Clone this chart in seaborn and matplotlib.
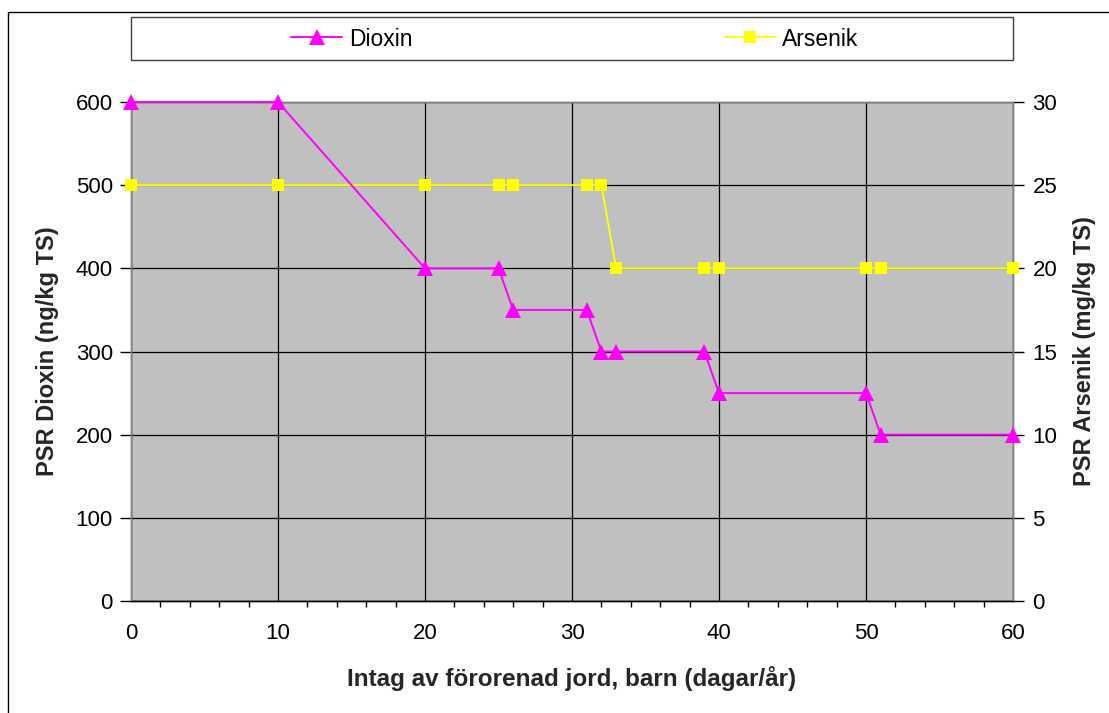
import matplotlib
matplotlib.use("Agg")
import matplotlib.pyplot as plt
from matplotlib.patches import Rectangle
from matplotlib.lines import Line2D
from matplotlib.ticker import MultipleLocator
import seaborn as sns
import pandas as pd

# Intake of contaminated soil (days/year) and the resulting guideline values
dagar = [0, 10, 20, 25, 26, 31, 32, 33, 39, 40, 50, 51, 60]
dioxin = [600, 600, 400, 400, 350, 350, 300, 300, 300, 250, 250, 200, 200]
arsenik = [25, 25, 25, 25, 25, 25, 25, 20, 20, 20, 20, 20, 20]

df = pd.DataFrame({"dagar": dagar, "Dioxin": dioxin, "Arsenik": arsenik})

sns.set_theme(style="white")
plt.rcParams["font.family"] = ["Liberation Sans", "DejaVu Sans"]

W, H = 1109, 713
fig = plt.figure(figsize=(W / 100, H / 100), dpi=100)
ax = fig.add_axes([131 / W, 1 - 601 / H, (1013 - 131) / W, (601 - 102) / H])
ax2 = ax.twinx()

ax.set_facecolor("#C0C0C0")
ax2.patch.set_visible(False)

MAG, YEL = "#FF00FF", "#FFFF00"

sns.lineplot(data=df, x="dagar", y="Dioxin", ax=ax2, color=MAG, lw=1.4,
             marker="^", markersize=11, markeredgewidth=0, clip_on=False, zorder=5)
sns.lineplot(data=df, x="dagar", y="Arsenik", ax=ax2, color=YEL, lw=1.4,
             marker="s", markersize=9, markeredgewidth=0, clip_on=False, zorder=4)
ax2.set_ylim(0, 30)
# Dioxin is read against the left axis (0-600), Arsenik against the right (0-30)
ax2.lines[0].set_ydata([v / 20 for v in dioxin])
ax2.set_ylabel("")
if ax2.get_legend() is not None:
    ax2.get_legend().remove()

ax.set_xlim(0, 60)
ax.set_ylim(0, 600)
ax.xaxis.set_major_locator(MultipleLocator(10))
ax.xaxis.set_minor_locator(MultipleLocator(2))
ax.yaxis.set_major_locator(MultipleLocator(100))
ax2.yaxis.set_major_locator(MultipleLocator(5))

ax.grid(True, which="major", color="black", lw=0.9)
ax.set_axisbelow(True)

for a in (ax, ax2):
    for s in a.spines.values():
        s.set_color("#808080")
        s.set_linewidth(1.0)
ax.spines["bottom"].set_color("black")
ax2.spines["bottom"].set_color("black")

ax.tick_params(axis="x", which="major", direction="inout", length=12, width=1,
               color="black", labelsize=16, pad=10, labelcolor="black")
ax.tick_params(axis="x", which="minor", direction="out", length=4, width=1,
               color="black", bottom=True)
ax.tick_params(axis="y", which="major", direction="out", length=8, width=1,
               color="black", labelsize=16, pad=5, labelcolor="black", left=True)
ax2.tick_params(axis="y", which="major", direction="out", length=8, width=1,
                color="black", labelsize=16, pad=6, labelcolor="black", right=True)

ax.set_xlabel("Intag av förorenad jord, barn (dagar/år)", fontsize=17.5,
              fontweight="bold", labelpad=16)
ax.set_ylabel("PSR Dioxin (ng/kg TS)", fontsize=17, fontweight="bold", labelpad=12)
ax2.set_ylabel("PSR Arsenik (mg/kg TS)", fontsize=17, fontweight="bold", labelpad=11)

# legend box spanning the plot width
fig.patches.append(Rectangle((131 / W, 1 - 60 / H), (1013 - 131) / W, 43 / H,
                             transform=fig.transFigure, fill=False,
                             edgecolor="#404040", lw=1.0))
handles = [
    Line2D([], [], color=MAG, lw=1.4, marker="^", markersize=11, markeredgewidth=0),
    Line2D([], [], color=YEL, lw=1.4, marker="s", markersize=9, markeredgewidth=0),
]
leg = fig.legend(handles, ["Dioxin", "Arsenik"], ncol=2, loc="center",
                 bbox_to_anchor=(575 / W, 1 - 39 / H), fontsize=16.5, frameon=False,
                 handlelength=2.2, handletextpad=0.3, columnspacing=13.65,
                 borderaxespad=0, borderpad=0)
for t in leg.get_texts():
    t.set_color("black")

# outer chart border
fig.patches.append(Rectangle((8 / W, -0.05), 1.2, 1 - 12 / H + 0.05,
                             transform=fig.transFigure, fill=False,
                             edgecolor="black", lw=1.0))

fig.savefig("out.png", dpi=100)
